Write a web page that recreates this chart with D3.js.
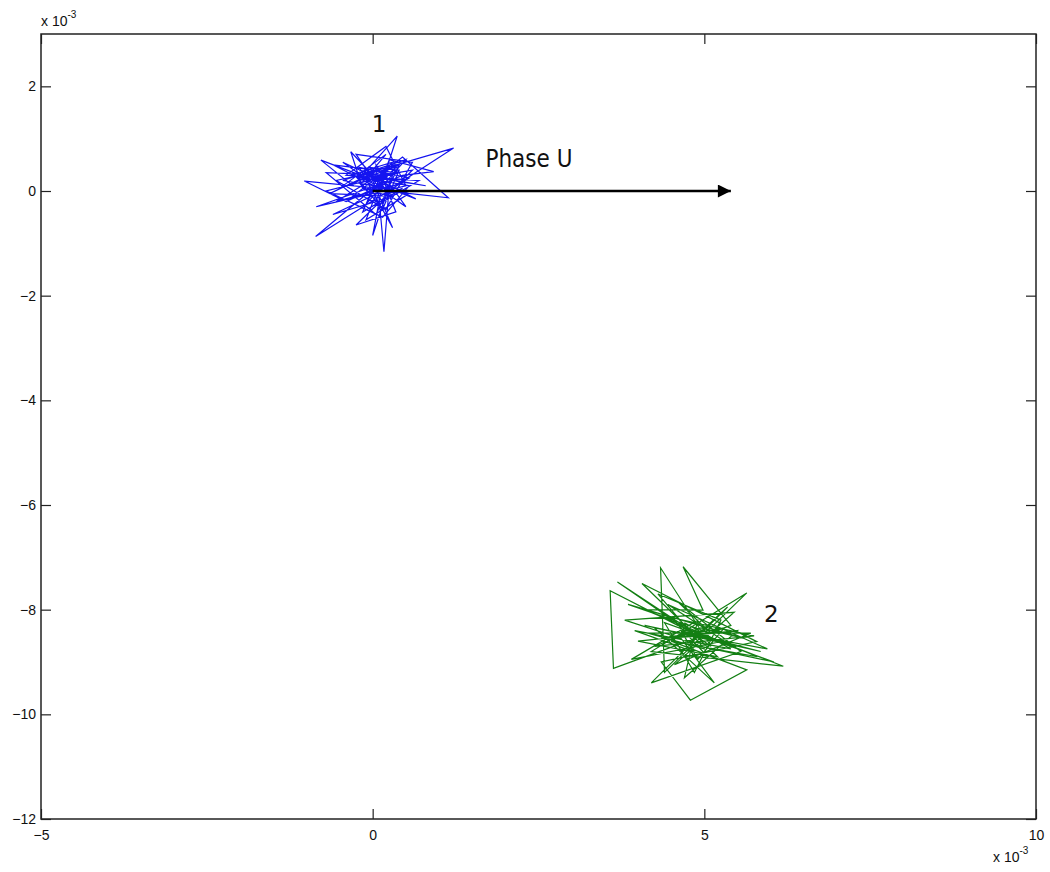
<!DOCTYPE html>
<html>
<head>
<meta charset="utf-8">
<script src="https://cdn.jsdelivr.net/npm/d3@7"></script>
<style>
  html, body { margin: 0; padding: 0; background: #fff; }
  svg { display: block; }
  .tick text { font-family: "Liberation Sans", Arial, sans-serif; font-size: 14px; fill: #111; }
</style>
</head>
<body>
<svg id="chart" width="1050" height="872"></svg>
<script>
// Axis ticks (values in units of 10^-3)
const xTicks = [-5, 0, 5, 10];
const yTicks = [2, 0, -2, -4, -6, -8, -10, -12];

// Trajectory of phasor 1 (units of 10^-3)
const phase1X = [0.00, 0.35, -0.55, 0.20, 0.60, -0.25, 0.10, -1.03, -0.40, 0.45, 0.92, 0.25, -0.10, 0.55, -0.78, -0.30, 0.37, 0.05, -0.60, 0.40,
  1.22, -0.05, 0.30, -0.20, 0.55, -0.86, 0.15, -0.45, 0.50, 0.05, 0.17, 0.25, -0.35, 0.45, 1.14, -0.15, -0.33, 0.30, -0.65, 0.10,
  0.35, -0.25, 0.60, -0.10, 0.20, -0.50, 0.40, 0.05, -0.70, 0.30, 0.00, 0.15, -0.85, 0.50, 0.20, -0.40, 0.70, 0.10, -0.20, 0.35,
  -0.60, 0.25, 0.45, -0.15, 0.05, 0.30, -0.35, 0.55, 0.15, -0.70, 0.40, 0.20, -0.10, 0.50, -0.45, 0.25, 0.65, -0.20, 0.10, 0.45,
  -0.55, 0.35, 0.05, 0.80, -0.30, 0.15, 0.40, -0.05, 0.25, 0.00];
const phase1Y = [0.00, 0.45, 0.20, -0.35, 0.55, 0.70, 0.05, 0.19, -0.20, 0.30, 0.37, 0.60, -0.55, -0.05, 0.59, 0.10, 1.05, -0.20, -0.45, 0.15,
  0.82, 0.35, -0.70, 0.45, 0.25, -0.87, 0.20, 0.55, -0.30, 0.50, -1.16, 0.10, -0.15, 0.65, -0.13, 0.05, 0.75, -0.10, -0.05, 0.40,
  -0.40, -0.65, 0.40, 0.25, 0.70, 0.05, 0.50, -0.45, 0.35, 0.30, -0.85, 0.15, -0.30, 0.10, 0.85, 0.30, 0.20, -0.25, 0.15, 0.35,
  0.50, -0.05, 0.05, -0.40, 0.20, 0.55, 0.30, 0.10, -0.50, 0.00, 0.35, 0.45, -0.25, 0.60, 0.20, 0.05, -0.15, 0.40, 0.30, 0.15,
  -0.20, 0.50, 0.25, 0.10, 0.35, -0.35, 0.40, 0.45, -0.10, 0.00];

// Trajectory of phasor 2 (units of 10^-3)
const phase2X = [4.80, 3.69, 5.10, 4.34, 4.40, 5.64, 4.20, 6.19, 4.60, 3.58, 3.63, 5.40, 4.68, 4.98, 4.10, 5.80, 4.50, 5.64, 4.79, 4.35,
  5.79, 4.06, 5.20, 4.00, 5.50, 4.70, 4.90, 3.90, 5.30, 4.45, 5.95, 4.25, 5.15, 4.65, 3.80, 5.45, 4.55, 5.70, 4.15, 5.00,
  4.30, 5.25, 4.85, 4.40, 6.05, 4.75, 5.35, 4.20, 5.55, 4.60, 5.10, 3.85, 5.60, 4.95, 4.25, 5.75, 4.50, 5.05, 3.95, 5.40,
  4.70, 5.20, 4.10, 5.85, 4.65, 4.90, 5.30, 4.35, 5.00];
const phase2Y = [-8.40, -7.47, -8.70, -7.20, -9.20, -7.68, -8.80, -9.08, -8.30, -7.64, -9.12, -8.30, -7.18, -8.01, -8.00, -8.90, -8.60, -9.15, -9.73, -9.00,
  -8.61, -7.50, -8.90, -8.60, -8.40, -9.30, -8.20, -8.95, -8.60, -7.90, -8.75, -8.35, -9.40, -8.55, -8.20, -8.05, -9.05, -8.45, -8.45, -8.75,
  -7.70, -8.20, -9.20, -8.25, -9.00, -8.65, -7.95, -9.40, -8.80, -7.85, -8.45, -7.90, -8.55, -8.35, -8.70, -8.50, -8.15, -8.90, -8.40, -8.75,
  -8.25, -8.60, -8.30, -8.80, -8.40, -8.95, -8.35, -8.55, -8.50];

// Reference phasor arrow
const arrowFrom = [0, 0];
const arrowTo = [5.4, 0];

const margin = { left: 41, top: 34, right: 14, bottom: 53 };
const W = 1050, H = 872;
const svg = d3.select("#chart");

const x = d3.scaleLinear().domain([-5, 10]).range([margin.left, W - margin.right]);
const y = d3.scaleLinear().domain([-12, 3]).range([H - margin.bottom, margin.top]);

const tick = 10;
const axisG = svg.append("g");

axisG.append("g").attr("transform", `translate(0,${y(-12)})`)
  .call(d3.axisBottom(x).tickValues(xTicks).tickSizeInner(-tick).tickSizeOuter(0).tickPadding(11));
axisG.append("g").attr("transform", `translate(0,${y(3)})`)
  .call(d3.axisTop(x).tickValues(xTicks).tickSizeInner(-tick).tickSizeOuter(0).tickFormat(""));
axisG.append("g").attr("transform", `translate(${x(-5)},0)`)
  .call(d3.axisLeft(y).tickValues(yTicks).tickSizeInner(-tick).tickSizeOuter(0).tickPadding(5));
axisG.append("g").attr("transform", `translate(${x(10)},0)`)
  .call(d3.axisRight(y).tickValues(yTicks).tickSizeInner(-tick).tickSizeOuter(0).tickFormat(""));
axisG.selectAll(".domain").remove();
axisG.selectAll(".tick line").attr("stroke", "#222").attr("stroke-width", 1.2);

// Frame
svg.append("rect")
  .attr("x", x(-5)).attr("y", y(3))
  .attr("width", x(10) - x(-5)).attr("height", y(-12) - y(3))
  .attr("fill", "none").attr("stroke", "#222").attr("stroke-width", 1.5);

// Exponent labels
function expLabel(px, py) {
  const t = svg.append("text").attr("x", px).attr("y", py)
    .attr("font-family", "Liberation Sans, Arial, sans-serif").attr("font-size", 14).attr("fill", "#111");
  t.append("tspan").text("x 10");
  t.append("tspan").attr("dy", -8).attr("font-size", 10).text("-3");
}
expLabel(41, 26);
expLabel(993, 862);

const line = d3.line().x(d => x(d[0])).y(d => y(d[1]));

svg.append("path")
  .datum(phase1X.map((v, i) => [v, phase1Y[i]]))
  .attr("d", line).attr("fill", "none")
  .attr("stroke", "#1414f0").attr("stroke-width", 1.2).attr("stroke-linejoin", "miter");

svg.append("path")
  .datum(phase2X.map((v, i) => [v, phase2Y[i]]))
  .attr("d", line).attr("fill", "none")
  .attr("stroke", "#137f13").attr("stroke-width", 1.2).attr("stroke-linejoin", "miter");

// Arrow
svg.append("defs").append("marker")
  .attr("id", "head").attr("viewBox", "0 0 10 10").attr("refX", 10).attr("refY", 5)
  .attr("markerUnits", "userSpaceOnUse").attr("markerWidth", 15).attr("markerHeight", 13).attr("orient", "auto")
  .append("path").attr("d", "M0,0 L10,5 L0,10 Z").attr("fill", "#000");

svg.append("line")
  .attr("x1", x(arrowFrom[0])).attr("y1", y(arrowFrom[1]))
  .attr("x2", x(arrowTo[0])).attr("y2", y(arrowTo[1]))
  .attr("stroke", "#000").attr("stroke-width", 2.5).attr("marker-end", "url(#head)");

// Annotations
const ann = svg.append("g").attr("font-family", "DejaVu Sans, Verdana, sans-serif").attr("fill", "#111");
ann.append("text").attr("x", x(0.0) - 1).attr("y", y(0) - 59).attr("font-size", 23).text("1");
ann.append("text").attr("x", x(5.9)).attr("y", y(-8.2) + 2).attr("font-size", 23).text("2");
ann.append("text").attr("x", x(1.7)).attr("y", y(0) - 24).attr("font-size", 24)
  .attr("textLength", 87).attr("lengthAdjust", "spacingAndGlyphs").text("Phase U");
</script>
</body>
</html>
